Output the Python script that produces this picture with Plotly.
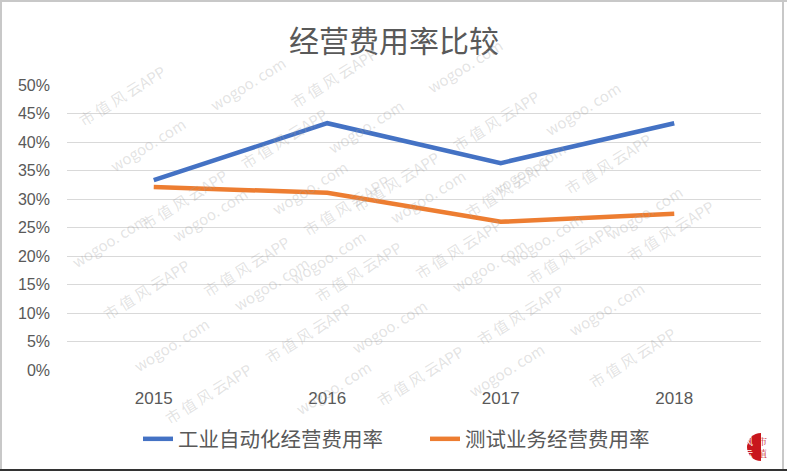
import plotly.graph_objects as go

# ---- data ----
years = ["2015", "2016", "2017", "2018"]
industrial_auto = [0.333, 0.433, 0.363, 0.433]   # 工业自动化经营费用率
test_business = [0.321, 0.311, 0.260, 0.274]     # 测试业务经营费用率
y_ticks = [0, 0.05, 0.10, 0.15, 0.20, 0.25, 0.30, 0.35, 0.40, 0.45, 0.50]
y_tick_labels = ["0%", "5%", "10%", "15%", "20%", "25%", "30%", "35%", "40%", "45%", "50%"]

W, H = 787, 473
L, R, T, B = 67, 26, 85, 103
PW, PH = W - L - R, H - T - B


def px(x):
    return (x - L) / PW


def py(y):
    return (H - B - y) / PH


fig = go.Figure()
fig.add_trace(go.Scatter(x=years, y=industrial_auto, mode="lines", name="工业自动化经营费用率",
                         line=dict(color="#4472C4", width=4.5)))
fig.add_trace(go.Scatter(x=years, y=test_business, mode="lines", name="测试业务经营费用率",
                         line=dict(color="#ED7D31", width=4.5)))

annotations = []
# watermark lattice
P0 = (103, 110)
a = (162, 43)
b = (62, 104)
for i in range(-4, 7):
    for j in range(-4, 7):
        for k, txt in enumerate(["wogoo. com", "市 值 风 云APP"]):
            cx = P0[0] + i * a[0] + j * b[0] + k * b[0] / 2
            cy = P0[1] + i * a[1] + j * b[1] + k * b[1] / 2
            if 48 <= cx <= W - 48 and 30 <= cy <= H - 34:
                annotations.append(dict(
                    x=px(cx), y=py(cy), xref="paper", yref="paper", text=txt,
                    showarrow=False, textangle=-32,
                    font=dict(family="Noto Sans CJK SC", size=15, color="rgba(160,160,160,0.30)")))

# logo
annotations += [
    dict(x=px(754), y=py(447), xref="paper", yref="paper", yanchor="middle", text="风<br>云",
         showarrow=False, borderpad=0,
         font=dict(family="Noto Sans CJK SC", size=9, color="white")),
    dict(x=px(768), y=py(447), xref="paper", yref="paper", yanchor="middle", text="市<br>值",
         showarrow=False, borderpad=0,
         font=dict(family="Noto Serif CJK SC, Noto Sans CJK SC", size=9, color="#C8161D")),
]

shapes = [
    dict(type="circle", xref="paper", yref="paper", x0=px(747), x1=px(775), y0=py(433), y1=py(461),
         fillcolor="#C8161D", line=dict(width=0), layer="above"),
    dict(type="rect", xref="paper", yref="paper", x0=px(761), x1=px(776), y0=py(432), y1=py(462),
         fillcolor="white", line=dict(width=0), layer="above"),
    # frame
    dict(type="line", xref="paper", yref="paper", x0=px(0), x1=px(787), y0=py(1), y1=py(1),
         line=dict(color="#C8C8C8", width=2)),
    dict(type="line", xref="paper", yref="paper", x0=px(1), x1=px(1), y0=py(0), y1=py(470),
         line=dict(color="#C8C8C8", width=2)),
    dict(type="line", xref="paper", yref="paper", x0=px(783), x1=px(783), y0=py(0), y1=py(470),
         line=dict(color="#C8C8C8", width=2)),
    dict(type="line", xref="paper", yref="paper", x0=px(0), x1=px(787), y0=py(470), y1=py(470),
         line=dict(color="#333333", width=2)),
]

fig.update_layout(
    width=W, height=H,
    margin=dict(l=L, r=R, t=T, b=B, pad=0, autoexpand=False),
    paper_bgcolor="white", plot_bgcolor="white",
    title=dict(text="经营费用率比较", xref="container", x=394 / W, xanchor="center",
               y=1 - 41 / H, yanchor="middle",
               font=dict(family="Noto Sans CJK SC", size=30, color="#595959")),
    xaxis=dict(type="category", range=[-0.5, 3.5], showgrid=False, zeroline=False, showline=False,
               ticks="", ticklabelstandoff=16,
               tickfont=dict(family="Liberation Sans", size=17, color="#595959")),
    yaxis=dict(range=[0, 0.5], tickvals=y_ticks, ticktext=y_tick_labels, showgrid=True,
               gridcolor="#D9D9D9", gridwidth=1, zeroline=False, showline=False, ticks="",
               ticklabelstandoff=16,
               tickfont=dict(family="Liberation Sans", size=16, color="#595959")),
    legend=dict(orientation="h", x=px(138), xanchor="left", y=py(439), yanchor="middle",
                font=dict(family="Noto Sans CJK SC", size=20.5, color="#595959"),
                entrywidth=242, entrywidthmode="pixels",
                bgcolor="rgba(0,0,0,0)"),
    annotations=annotations,
    shapes=shapes,
)

fig.write_html("out.html")
